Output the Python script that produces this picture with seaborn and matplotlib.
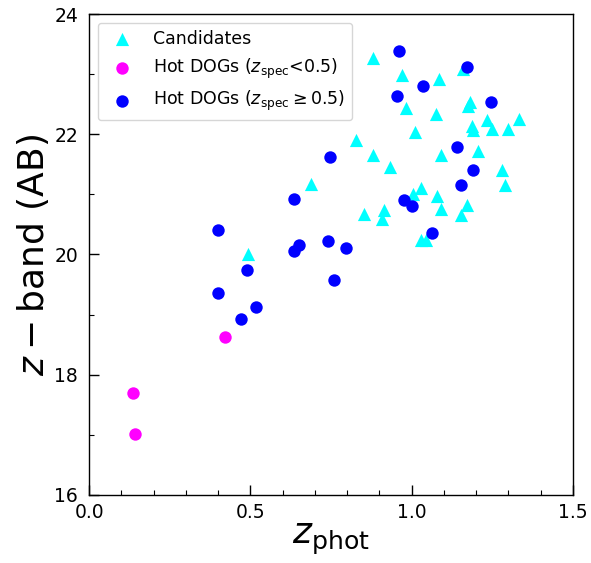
import matplotlib
matplotlib.use("Agg")
import matplotlib.pyplot as plt
import seaborn as sns
import pandas as pd
from matplotlib.ticker import MultipleLocator

# Candidates (triangles)
cand_z = [0.492, 0.688, 0.827, 0.853, 0.880, 0.913, 0.908, 0.933, 0.880, 0.969,
          0.983, 1.084, 1.158, 1.010, 1.076, 1.180, 1.175, 1.232, 1.186, 1.191,
          1.250, 1.298, 1.334, 1.090, 1.206, 1.280, 1.290, 1.030, 1.005, 1.077,
          1.092, 1.172, 1.152, 1.030, 1.045]
cand_mag = [20.00, 21.18, 21.90, 20.68, 21.66, 20.74, 20.59, 21.46, 23.27, 22.98,
            22.44, 22.92, 23.09, 22.04, 22.33, 22.53, 22.47, 22.24, 22.14, 22.07,
            22.08, 22.08, 22.26, 21.66, 21.73, 21.41, 21.16, 21.10, 21.00, 20.98,
            20.75, 20.83, 20.65, 20.24, 20.24]

# Hot DOGs z_spec < 0.5
low_z = [0.135, 0.141, 0.420]
low_mag = [17.70, 17.02, 18.62]

# Hot DOGs z_spec >= 0.5
high_z = [0.400, 0.400, 0.490, 0.470, 0.517, 0.635, 0.635, 0.650, 0.746, 0.740,
          0.759, 0.796, 0.960, 0.953, 1.036, 1.170, 1.247, 1.140, 1.189, 1.154,
          0.976, 1.000, 1.064]
high_mag = [20.40, 19.36, 19.75, 18.92, 19.13, 20.93, 20.05, 20.16, 21.63, 20.23,
            19.58, 20.11, 23.38, 22.63, 22.81, 23.12, 22.54, 21.78, 21.40, 21.16,
            20.91, 20.81, 20.36]

df_c = pd.DataFrame({"z": cand_z, "m": cand_mag})
df_l = pd.DataFrame({"z": low_z, "m": low_mag})
df_h = pd.DataFrame({"z": high_z, "m": high_mag})

fig = plt.figure(figsize=(5.91, 5.63), dpi=100)
ax = fig.add_axes([0.151, 0.121, 0.8185, 0.854])

sns.scatterplot(data=df_c, x="z", y="m", marker="^", color="cyan", s=90,
                linewidth=0, label="Candidates", ax=ax)
sns.scatterplot(data=df_l, x="z", y="m", marker="o", color="magenta", s=80,
                linewidth=0, label=r"Hot DOGs ($z_{\rm spec}$<0.5)", ax=ax)
sns.scatterplot(data=df_h, x="z", y="m", marker="o", color="blue", s=80,
                linewidth=0, label=r"Hot DOGs ($z_{\rm spec}\geq0.5$)", ax=ax)

ax.set_xlim(0, 1.5)
ax.set_ylim(16, 24)
ax.xaxis.set_major_locator(MultipleLocator(0.5))
ax.xaxis.set_minor_locator(MultipleLocator(0.1))
ax.yaxis.set_major_locator(MultipleLocator(2))
ax.yaxis.set_minor_locator(MultipleLocator(1))
ax.tick_params(which="both", direction="in", labelsize=13.5)
ax.tick_params(axis="x", which="both", pad=6)
ax.tick_params(axis="y", which="both", pad=8)
ax.tick_params(which="major", length=7, width=1)
ax.tick_params(which="minor", length=3.5, width=0.8)
ax.set_xlabel(r"$z_{\rm phot}$", fontsize=26, labelpad=0)
ax.set_ylabel(r"$z-$band (AB)", fontsize=26, labelpad=2)
for sp in ax.spines.values():
    sp.set_linewidth(1.0)

ax.legend(loc="upper left", fontsize=12.5)

fig.savefig("out.png", dpi=100)
